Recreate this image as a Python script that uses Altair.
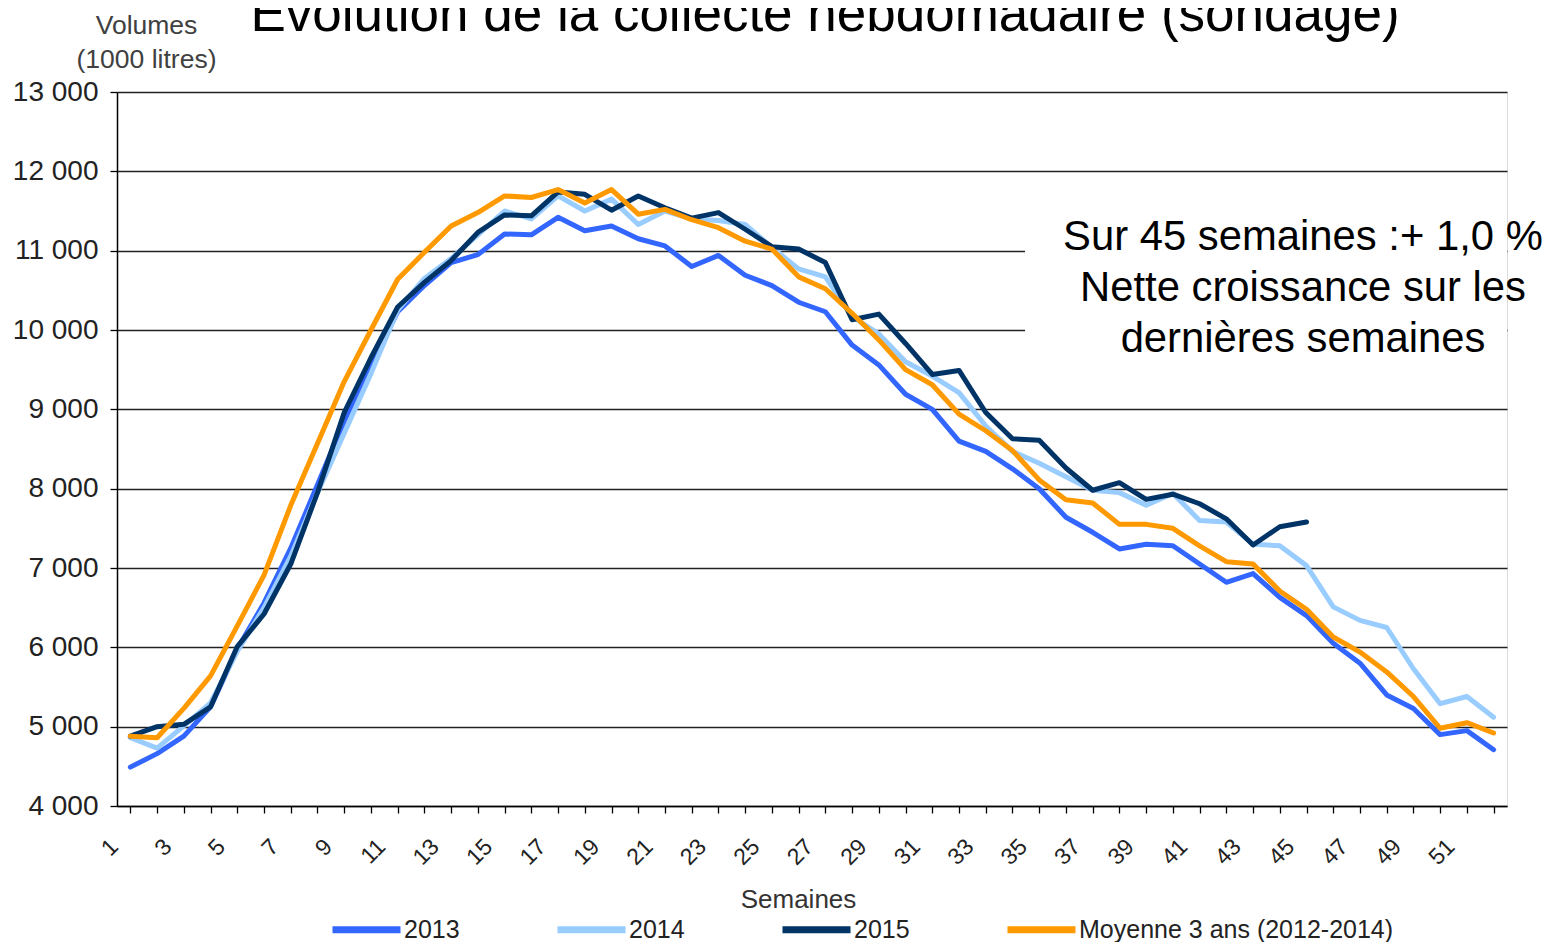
import altair as alt
import pandas as pd

weeks = list(range(1, 53))

v2013 = [4490, 4660, 4880, 5250, 5980, 6560, 7250, 8050, 8850, 9560,
         10230, 10560, 10850, 10950, 11210, 11200, 11420, 11250, 11310, 11150,
         11060, 10800, 10940, 10690, 10560, 10350, 10230, 9810, 9560, 9190,
         9000, 8600, 8470, 8250, 8000, 7640, 7450, 7240, 7300, 7280,
         7050, 6820, 6930, 6630, 6400, 6050, 5800, 5400, 5230, 4900,
         4950, 4710]

v2014 = [4860, 4730, 5010, 5300, 5950, 6500, 7150, 7950, 8700, 9450,
         10250, 10650, 10900, 11200, 11500, 11400, 11690, 11500, 11650, 11330,
         11500, 11400, 11380, 11330, 11040, 10770, 10670, 10170, 9950, 9600,
         9420, 9210, 8790, 8470, 8320, 8150, 7980, 7950, 7790, 7940,
         7600, 7580, 7300, 7280, 7030, 6510, 6340, 6250, 5730, 5290,
         5380, 5120]

v2015 = [4880, 5000, 5030, 5250, 6010, 6420, 7050, 7950, 8960, 9650,
         10290, 10600, 10875, 11230, 11450, 11440, 11740, 11710, 11510, 11690,
         11540, 11410, 11480, 11270, 11050, 11020, 10850, 10130, 10200, 9830,
         9440, 9490, 8960, 8630, 8610, 8260, 7980, 8075, 7865, 7930,
         7810, 7620, 7290, 7520, 7580]

vavg = [4880, 4860, 5230, 5640, 6270, 6910, 7790, 8570, 9350, 10000,
        10640, 10980, 11310, 11480, 11690, 11670, 11770, 11600, 11770, 11460,
        11520, 11390, 11290, 11120, 11020, 10670, 10520, 10210, 9875, 9500,
        9310, 8940, 8730, 8480, 8110, 7860, 7820, 7550, 7550, 7500,
        7280, 7080, 7050, 6710, 6480, 6130, 5940, 5690, 5380, 4980,
        5050, 4920]

series_names = ["2013", "2014", "2015", "Moyenne 3 ans (2012-2014)"]
series_colors = ["#3366FF", "#99CCFF", "#003366", "#FF9900"]
y_ticks = list(range(4000, 13001, 1000))

title_text = "Évolution de la collecte hebdomadaire (sondage)"
note_lines = ["Sur 45 semaines :+ 1,0 %", "Nette croissance sur les", "dernières semaines"]

FONT = "Liberation Sans"

rows = []
for name, vals in zip(series_names, [v2013, v2014, v2015, vavg]):
    for i, v in enumerate(vals):
        rows.append({"Semaine": weeks[i], "Série": name, "Volume": v})
df = pd.DataFrame(rows)

W, H = 1390, 714

x_enc = alt.X(
    "Semaine:O",
    scale=alt.Scale(paddingInner=0, paddingOuter=0),
    axis=alt.Axis(
        bandPosition=0,
        labelExpr="datum.value % 2 == 1 ? datum.label : ''",
        labelAngle=-45,
        labelFontSize=23,
        labelFont=FONT,
        labelColor="#222222",
        labelPadding=22,
        labelOffset=-24,
        labelOverlap=False,
        tickSize=7,
        tickColor="#000000",
        tickWidth=1.3,
        domainColor="#000000",
        domainWidth=1.5,
        grid=False,
        title="Semaines",
        titleFont=FONT,
        titleFontSize=26,
        titleFontWeight="normal",
        titleColor="#333333",
        titleX=681,
        titleY=101,
        titleBaseline="alphabetic",
    ),
)

y_enc = alt.Y(
    "Volume:Q",
    scale=alt.Scale(domain=[4000, 13000], nice=False, zero=False),
    axis=alt.Axis(
        values=y_ticks,
        labelExpr="replace(format(datum.value, ','), ',', ' ')",
        labelFontSize=28,
        labelFont=FONT,
        labelColor="#222222",
        labelPadding=12,
        tickSize=7,
        tickColor="#000000",
        tickWidth=1.3,
        domainColor="#000000",
        domainWidth=1.5,
        grid=True,
        gridColor="#222222",
        gridWidth=1.3,
        title=["Volumes", "(1000 litres)"],
        titleAngle=0,
        titleX=29,
        titleY=-59,
        titleAlign="center",
        titleBaseline="alphabetic",
        titleFont=FONT,
        titleFontSize=26.5,
        titleFontWeight="normal",
        titleColor="#404040",
        titleLineHeight=34,
    ),
)

lines = alt.Chart(df).mark_line(strokeWidth=5, strokeJoin="round", strokeCap="round").encode(
    x=x_enc,
    y=y_enc,
    color=alt.Color(
        "Série:N",
        scale=alt.Scale(domain=series_names, range=series_colors),
        legend=alt.Legend(
            orient="none",
            legendX=212,
            legendY=800,
            direction="horizontal",
            columns=4,
            title=None,
            symbolType="stroke",
            symbolSize=4624,
            symbolStrokeWidth=7,
            labelFont=FONT,
            labelFontSize=25,
            labelColor="#222222",
            labelOffset=0,
            columnPadding=83,
            labelLimit=400,
        ),
    ),
    order=alt.Order("Semaine:O"),
)

one = pd.DataFrame({"k": [0]})

mask = alt.Chart(one).mark_rect(color="white").encode(
    x=alt.value(908), x2=alt.value(W), y=alt.value(122), y2=alt.value(280)
)

title = alt.Chart(one).mark_text(
    text=title_text, font=FONT, fontSize=53, align="center", baseline="alphabetic", color="#000000"
).encode(x=alt.value(708), y=alt.value(-61))

note = alt.Chart(one).mark_text(
    text=note_lines, font=FONT, fontSize=41.8, align="center", baseline="alphabetic",
    lineHeight=51, color="#000000"
).encode(x=alt.value(1186), y=alt.value(158))

chart = alt.layer(mask, lines, title, note).properties(
    width=W,
    height=H,
    padding={"left": 109, "top": 84, "right": 41, "bottom": 136},
    autosize=alt.AutoSizeParams(type="none"),
).configure_view(stroke=None).configure(background="white")

chart.save("out.html", embed_options={"renderer": "svg", "actions": False})
